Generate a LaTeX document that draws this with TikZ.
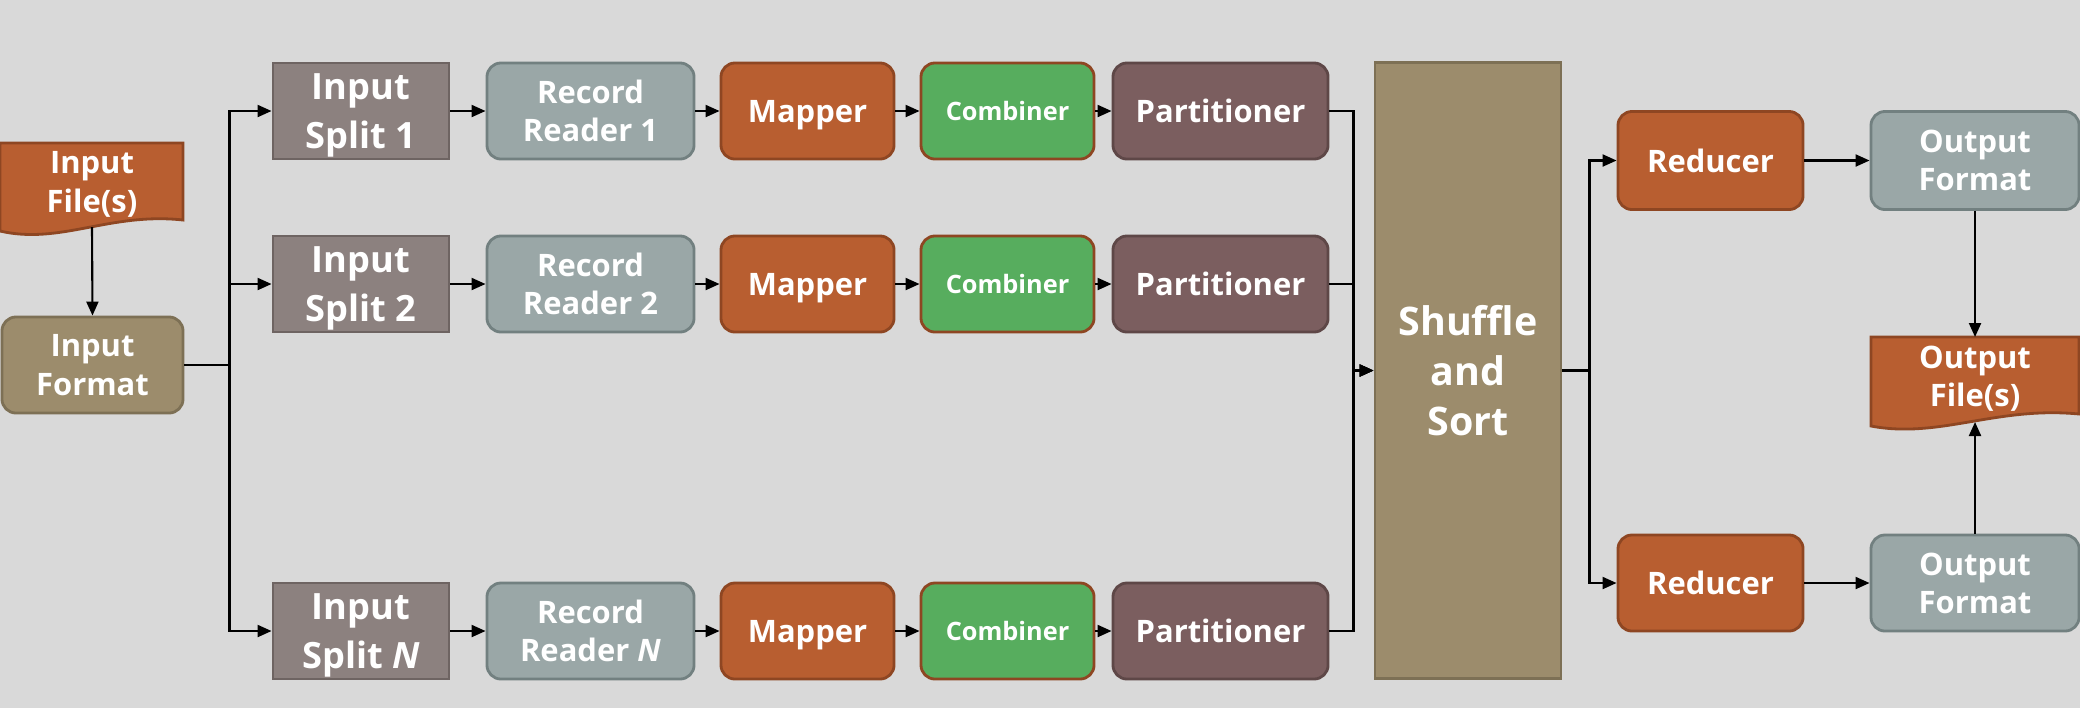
\documentclass[tikz,border=0pt]{standalone}
\usepackage{fontspec}
\setmainfont{Open Sans}
\usetikzlibrary{arrows.meta}

\definecolor{bgray}{HTML}{D9D9D9}
\definecolor{rust}{HTML}{B85E30}
\definecolor{rustd}{HTML}{8E4622}
\definecolor{khaki}{HTML}{9C8C6C}
\definecolor{khakid}{HTML}{7D7055}
\definecolor{mauve}{HTML}{8C817F}
\definecolor{mauved}{HTML}{6E6462}
\definecolor{slate}{HTML}{9AA7A7}
\definecolor{slated}{HTML}{728080}
\definecolor{leaf}{HTML}{57AD5E}
\definecolor{plum}{HTML}{7B5E5F}
\definecolor{plumd}{HTML}{5E4747}

\tikzset{
  box/.style={draw, line width=0.8pt, text=white, align=center, inner sep=0pt,
    text depth=0pt, minimum height=0.96cm, font=\fontsize{8.8}{10.9}\selectfont\bfseries},
  rbox/.style={box, rounded corners=0.14cm},
  splitbox/.style={box, fill=mauve, draw=mauved, minimum width=1.76cm,
    font=\fontsize{10.3}{13.7}\selectfont\bfseries},
  readerbox/.style={rbox, fill=slate, draw=slated, minimum width=2.07cm},
  mapbox/.style={rbox, fill=rust, draw=rustd, minimum width=1.73cm},
  combbox/.style={rbox, fill=leaf, draw=rustd, minimum width=1.73cm,
    font=\fontsize{7.2}{9}\selectfont\bfseries},
  partbox/.style={rbox, fill=plum, draw=plumd, minimum width=2.15cm},
  filebox/.style={fill=rust, draw=rustd, line width=0.8pt},
  txt/.style={text=white, align=center, text depth=0pt,
    font=\fontsize{8.8}{10.9}\selectfont\bfseries},
  conn/.style={line width=0.6pt, -{Triangle[length=0.14cm,width=0.12cm]}},
  wire/.style={line width=0.6pt}
}

\begin{document}
\begin{tikzpicture}[x=0.01cm,y=-0.01cm]
  \fill[bgray] (0,0) rectangle (2080,708);
  \useasboundingbox (0,0) rectangle (2080,708);

  % input side
  \filldraw[filebox] (0,143) -- (183,143) -- (183,220)
    .. controls (110,212) and (60,245) .. (0,231) -- cycle;
  \node[txt] (infile) at (92,182) {Input\\File(s)};
  \coordinate (infile-b) at (92,227);
  \node[rbox, fill=khaki, draw=khakid, minimum width=1.81cm] (infmt) at (92.5,365) {Input\\Format};

  % the three map rows
  \node[splitbox] (split1) at (361,111) {Input\\Split 1};
  \node[splitbox] (split2) at (361,284) {Input\\Split 2};
  \node[splitbox] (splitN) at (361,631) {Input\\Split \textit{N}};

  \node[readerbox] (reader1) at (590.5,111) {Record\\Reader 1};
  \node[readerbox] (reader2) at (590.5,284) {Record\\Reader 2};
  \node[readerbox] (readerN) at (590.5,631) {Record\\Reader \textit{N}};

  \foreach \r/\y in {1/111, 2/284, N/631} {
    \node[mapbox] (mapper\r) at (807.5,\y) {Mapper};
    \node[combbox] (comb\r) at (1007.5,\y) {Combiner};
    \node[partbox] (part\r) at (1220.5,\y) {Partitioner};
  }

  \node[box, fill=khaki, draw=khakid, minimum width=1.86cm, minimum height=6.15cm,
    font=\fontsize{11.2}{14.2}\selectfont\bfseries] (shuffle) at (1468,370.5) {Shuffle\\and\\Sort};

  % reduce side
  \node[rbox, fill=rust, draw=rustd, minimum width=1.85cm, minimum height=0.98cm] (red1) at (1710.5,160.5) {Reducer};
  \node[rbox, fill=rust, draw=rustd, minimum width=1.85cm] (red2) at (1710.5,583) {Reducer};
  \node[rbox, fill=slate, draw=slated, minimum width=2.08cm, minimum height=0.98cm] (outfmt1) at (1975,160.5) {Output\\Format};
  \node[rbox, fill=slate, draw=slated, minimum width=2.08cm] (outfmt2) at (1975,583) {Output\\Format};

  \filldraw[filebox] (1871,337) -- (2079,337) -- (2079,414)
    .. controls (1996,406) and (1939,439) .. (1871,426) -- cycle;
  \node[txt] (outfile) at (1975,376) {Output\\File(s)};
  \coordinate (outfile-b) at (1975,422);

  % connectors
  \draw[conn] (infile-b) -- (infmt.north);
  \foreach \r in {1,2,N} {
    \draw[conn] (infmt.east) -- ++(45,0) |- (split\r.west);
    \draw[conn] (split\r) -- (reader\r);
    \draw[conn] (reader\r) -- (mapper\r);
    \draw[conn] (mapper\r) -- (comb\r);
    \draw[conn] (comb\r) -- (part\r);
    \draw[conn] (part\r.east) -- ++(24,0) |- (shuffle.west);
  }
  \draw[conn] (shuffle.east) -- ++(27,0) |- (red1.west);
  \draw[conn] (shuffle.east) -- ++(27,0) |- (red2.west);
  \draw[conn] (red1) -- (outfmt1);
  \draw[conn] (red2) -- (outfmt2);
  \draw[conn] (outfmt1.south) -- (outfile.north |- 0,337);
  \draw[conn] (outfmt2.north) -- (outfile-b);
\end{tikzpicture}
\end{document}
